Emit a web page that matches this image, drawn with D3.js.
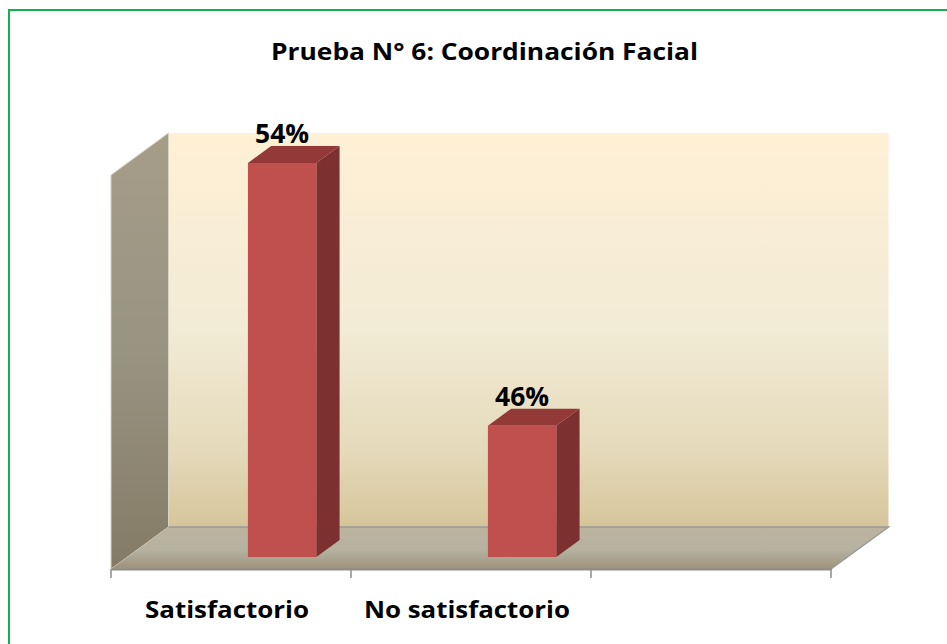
<!DOCTYPE html>
<meta charset="UTF-8">
<script src="https://d3js.org/d3.v7.min.js"></script>
<style>
  body { margin: 0; background: #fff; }
  text { font-family: "Open Sans", "DejaVu Sans", sans-serif; font-weight: bold; fill: #000; }
</style>
<body>
<div id="chart"></div>
<script>

// data
var categories = ["Satisfactorio", "No satisfactorio", ""];
var values = [54, 46, null];
var valueLabels = ["54%", "46%", ""];
var title = "Prueba N° 6: Coordinación Facial";

var W = 947, H = 644;

// 3d frame: front floor edge and depth offsets
var x0 = 111, x1 = 831, floorY = 569;
var DX = 57.5, DY = 42;
var wallH = 394;
var zFront = 12 / 42, zBack = 29 / 42;

var svg = d3.select("#chart").append("svg")
  .attr("width", W).attr("height", H);

var defs = svg.append("defs");

function vgrad(id, stops) {
  var g = defs.append("linearGradient").attr("id", id)
    .attr("x1", 0).attr("y1", 0).attr("x2", 0).attr("y2", 1);
  stops.forEach(function(s) {
    g.append("stop").attr("offset", s[0]).attr("stop-color", s[1]);
  });
}
vgrad("wallG", [[0, "#fff0d5"], [0.5, "#f2ebd5"], [0.8, "#e5dabb"], [1, "#d6c59b"]]);
vgrad("floorG", [[0, "#bdb39e"], [0.55, "#b5b2a1"], [1, "#9e927a"]]);
vgrad("sideG", [[0, "#a69d89"], [0.5, "#999382"], [1, "#847b65"]]);

// green frame (open on the right/bottom)
svg.append("rect")
  .attr("x", 9).attr("y", 10).attr("width", W + 40).attr("height", H + 40)
  .attr("fill", "none").attr("stroke", "#12b14e").attr("stroke-width", 2);

var x = d3.scaleBand().domain(d3.range(categories.length)).range([x0, x1]).padding(0);
var y = d3.scaleLinear().domain([42, 54]).range([0, wallH]);

// project (front x, height, depth fraction) to screen
function P(px, h, z) { return [px + z * DX, floorY - z * DY - h]; }
function poly(pts) { return "M" + pts.map(function(p) { return p.join(","); }).join("L") + "Z"; }

// back wall
svg.append("path")
  .attr("d", poly([P(x0, 0, 1), P(x1, 0, 1), P(x1, wallH, 1), P(x0, wallH, 1)]))
  .attr("fill", "url(#wallG)");

// left wall
svg.append("path")
  .attr("d", poly([P(x0, 0, 0), P(x0, 0, 1), P(x0, wallH, 1), P(x0, wallH, 0)]))
  .attr("fill", "url(#sideG)")
  .attr("stroke", "#d8d2c2").attr("stroke-width", 1);

// floor
svg.append("path")
  .attr("d", poly([P(x0, 0, 0), P(x1, 0, 0), P(x1, 0, 1), P(x0, 0, 1)]))
  .attr("fill", "url(#floorG)");
svg.append("path")
  .attr("d", "M" + P(x0, 0, 1).join(",") + "L" + P(x1, 0, 1).join(",") + "L" + P(x1, 0, 0).join(","))
  .attr("fill", "none").attr("stroke", "#999").attr("stroke-width", 1.5);

// category axis along front floor edge
var axis = svg.append("g").attr("transform", "translate(0," + floorY + ")")
  .call(d3.axisBottom(x).tickValues([]).tickSize(0));
axis.select(".domain").attr("stroke", "#8c8c8c").attr("stroke-width", 2);
axis.selectAll(".tk").data(d3.range(categories.length + 1)).enter()
  .append("line").attr("class", "tk")
  .attr("x1", function(i) { return i < categories.length ? x(i) : x1; })
  .attr("x2", function(i) { return i < categories.length ? x(i) : x1; })
  .attr("y1", 0).attr("y2", 9)
  .attr("stroke", "#8c8c8c").attr("stroke-width", 1.5);

// bars
var barOff = 0.502, barW = 0.285;
var bars = values.map(function(v, i) { return { v: v, i: i }; }).filter(function(d) { return d.v != null; });

var bg = svg.append("g");
bars.forEach(function(d) {
  var l = x(d.i) + barOff * x.bandwidth();
  var r = l + barW * x.bandwidth();
  var h = y(d.v);
  // side
  bg.append("path")
    .attr("d", poly([P(r, 0, zFront), P(r, 0, zBack), P(r, h, zBack), P(r, h, zFront)]))
    .attr("fill", "#7c3030");
  // top
  bg.append("path")
    .attr("d", poly([P(l, h, zFront), P(r, h, zFront), P(r, h, zBack), P(l, h, zBack)]))
    .attr("fill", "#933938");
  // front
  var a = P(l, h, zFront), b = P(r, 0, zFront);
  bg.append("rect")
    .attr("x", a[0]).attr("y", a[1])
    .attr("width", b[0] - a[0]).attr("height", b[1] - a[1])
    .attr("fill", "#c0504d");
  // value label
  bg.append("text")
    .attr("x", (a[0] + b[0]) / 2)
    .attr("y", P(l, h, zBack)[1] - 3)
    .attr("text-anchor", "middle")
    .attr("font-size", 27)
    .attr("textLength", 54).attr("lengthAdjust", "spacingAndGlyphs")
    .text(valueLabels[d.i]);
});

// category labels
var catWidths = [164, 206, 0];
svg.selectAll(".cat").data(categories.filter(function(c) { return c; })).enter()
  .append("text").attr("class", "cat")
  .attr("x", function(c, i) { return x(i) + x.bandwidth() / 2 - 4; })
  .attr("y", 618)
  .attr("text-anchor", "middle")
  .attr("font-size", 24)
  .attr("textLength", function(c, i) { return catWidths[i]; })
  .attr("lengthAdjust", "spacingAndGlyphs")
  .text(function(c) { return c; });

// title
svg.append("text")
  .attr("x", 484.5).attr("y", 60)
  .attr("text-anchor", "middle")
  .attr("font-size", 24)
  .attr("textLength", 427).attr("lengthAdjust", "spacingAndGlyphs")
  .text(title);

</script>
</body>
